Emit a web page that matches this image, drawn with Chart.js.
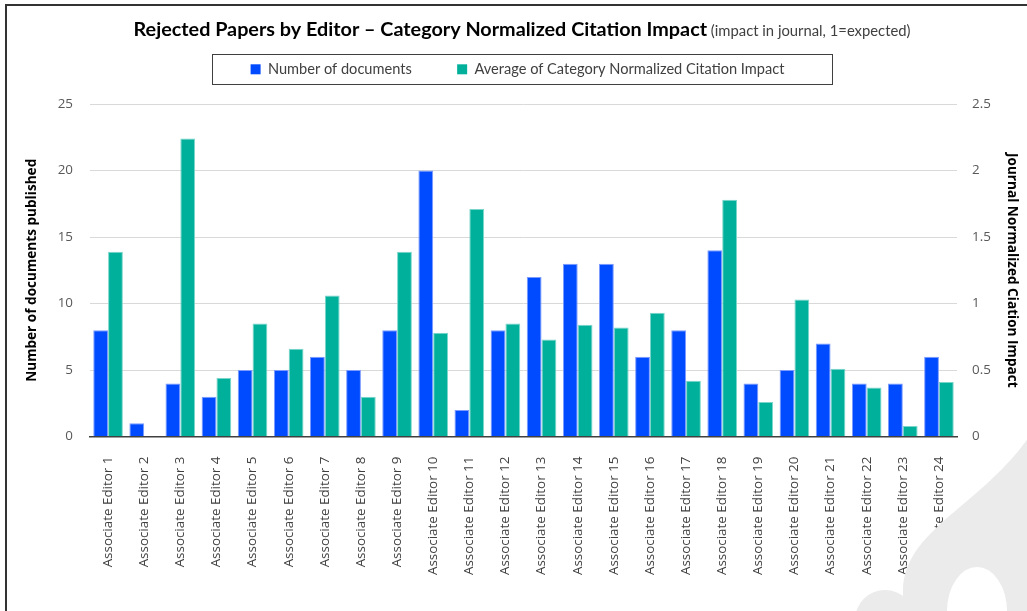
<!DOCTYPE html>
<html>
<head>
<meta charset="utf-8">
<script src="https://cdn.jsdelivr.net/npm/chart.js@4.4.1/dist/chart.umd.min.js"></script>
<style>
  html, body { margin: 0; padding: 0; background: #fff; }
  #wrap { width: 1027px; height: 611px; }
</style>
</head>
<body>
<div id="wrap"><canvas id="result" width="1027" height="611"></canvas></div>
<script>
const editors = [
  'Associate Editor 1', 'Associate Editor 2', 'Associate Editor 3', 'Associate Editor 4',
  'Associate Editor 5', 'Associate Editor 6', 'Associate Editor 7', 'Associate Editor 8',
  'Associate Editor 9', 'Associate Editor 10', 'Associate Editor 11', 'Associate Editor 12',
  'Associate Editor 13', 'Associate Editor 14', 'Associate Editor 15', 'Associate Editor 16',
  'Associate Editor 17', 'Associate Editor 18', 'Associate Editor 19', 'Associate Editor 20',
  'Associate Editor 21', 'Associate Editor 22', 'Associate Editor 23', 'Associate Editor 24'
]
const documents = [8, 1, 4, 3, 5, 5, 6, 5, 8, 20, 2, 8, 12, 13, 13, 6, 8, 14, 4, 5, 7, 4, 4, 6]
const citationImpact = [1.39, 0, 2.24, 0.44, 0.85, 0.66, 1.06, 0.30, 1.39, 0.78, 1.71, 0.85,
  0.73, 0.84, 0.82, 0.93, 0.42, 1.78, 0.26, 1.03, 0.51, 0.37, 0.08, 0.41]
const docTicks = [0, 5, 10, 15, 20, 25]
const impactTicks = [0, 0.5, 1, 1.5, 2, 2.5]

const blue = '#004bff'
const green = '#00b09b'

// frame, title, boxed legend and the grey watermark in the corner
const decorations = {
  id: 'decorations',
  beforeInit (chart) {
    const fit = chart.legend.fit
    chart.legend.fit = function () {
      fit.bind(chart.legend)()
      this.height = 50
    }
  },
  afterDraw (chart) {
    const ctx = chart.ctx
    ctx.save()

    // outer frame (top and left edge only)
    ctx.strokeStyle = '#333'
    ctx.lineWidth = 2
    ctx.beginPath()
    ctx.moveTo(6, 611)
    ctx.lineTo(6, 5)
    ctx.lineTo(1027, 5)
    ctx.stroke()

    // title
    const main = 'Rejected Papers by Editor \u2013 Category Normalized Citation Impact'
    const sub = ' (impact in journal, 1=expected)'
    ctx.font = 'bold 19.8px Lato'
    const w1 = ctx.measureText(main).width
    ctx.font = '14.8px Lato'
    const w2 = ctx.measureText(sub).width
    const x = 522 - (w1 + w2) / 2
    ctx.textBaseline = 'alphabetic'
    ctx.textAlign = 'left'
    ctx.fillStyle = '#000'
    ctx.font = 'bold 19.8px Lato'
    ctx.fillText(main, x, 36)
    ctx.fillStyle = '#404040'
    ctx.font = '14.8px Lato'
    ctx.fillText(sub, x + w1, 36)

    // legend box
    const hb = chart.legend.legendHitBoxes
    if (hb.length) {
      const l = hb[0].left - 39
      const r = hb[hb.length - 1].left + hb[hb.length - 1].width + 47
      ctx.strokeStyle = '#404040'
      ctx.lineWidth = 1
      ctx.strokeRect(Math.round(l) + 0.5, 54.5, Math.round(r - l), 30)
    }

    // watermark
    ctx.fillStyle = '#ebebeb'
    ctx.beginPath()
    ctx.moveTo(1040, 420)
    ctx.bezierCurveTo(990, 505, 905, 525, 903, 590)
    ctx.lineTo(903, 615)
    ctx.lineTo(1030, 615)
    ctx.lineTo(1030, 420)
    ctx.closePath()
    ctx.fill()
    ctx.beginPath()
    ctx.arc(885, 620, 30, 0, Math.PI * 2)
    ctx.fill()
    ctx.fillStyle = '#fff'
    ctx.beginPath()
    ctx.ellipse(977, 611, 30, 44, 0, 0, Math.PI * 2)
    ctx.fill()

    ctx.restore()
  }
}

const tickFont = { family: 'Open Sans', size: 13.4 }
const titleFont = { family: 'Open Sans', size: 13.6, weight: 'bold' }

new Chart(document.getElementById('result'), {
  type: 'bar',
  data: {
    labels: editors,
    datasets: [{
      label: 'Number of documents',
      data: documents,
      backgroundColor: blue,
      borderColor: '#7d9bff',
      borderWidth: 1,
      yAxisID: 'y'
    }, {
      label: 'Average of Category Normalized Citation Impact',
      data: citationImpact,
      backgroundColor: green,
      borderColor: '#7ad6ca',
      borderWidth: 1,
      yAxisID: 'y1'
    }]
  },
  options: {
    responsive: false,
    animation: false,
    categoryPercentage: 0.82,
    barPercentage: 1,
    layout: { padding: { top: 54, bottom: 16, left: 8, right: 0 } },
    plugins: {
      tooltip: { enabled: false },
      legend: {
        position: 'top',
        labels: {
          boxWidth: 10,
          boxHeight: 10,
          padding: 8,
          color: '#404040',
          font: { family: 'Lato', size: 14.6 },
          generateLabels (chart) {
            const items = Chart.defaults.plugins.legend.labels.generateLabels(chart)
            items.forEach((it, i) => {
              it.lineWidth = 0
              if (i === 0) it.text = it.text + '\u00a0'.repeat(10)
            })
            return items
          }
        }
      }
    },
    scales: {
      x: {
        grid: { display: false, drawTicks: false },
        border: { color: '#404040', width: 1.5 },
        ticks: {
          autoSkip: false,
          minRotation: 90,
          maxRotation: 90,
          padding: 20,
          color: '#404040',
          font: tickFont
        }
      },
      y: {
        position: 'left',
        min: 0,
        max: 25,
        afterBuildTicks (scale) { scale.ticks = docTicks.map(v => ({ value: v })) },
        afterFit (scale) { scale.width = 82 },
        grid: { color: '#d9d9d9', drawTicks: false },
        border: { display: false },
        ticks: { padding: 17, color: '#595959', font: tickFont },
        title: {
          display: true,
          text: 'Number of documents published',
          color: '#000',
          font: titleFont,
          padding: { top: 16 }
        }
      },
      y1: {
        position: 'right',
        min: 0,
        max: 2.5,
        afterBuildTicks (scale) { scale.ticks = impactTicks.map(v => ({ value: v })) },
        afterFit (scale) { scale.width = 70 },
        grid: { drawOnChartArea: false, drawTicks: false },
        border: { display: false },
        ticks: { padding: 15, color: '#595959', font: tickFont, callback: v => String(v) },
        title: {
          display: true,
          text: 'Journal Normalized Ciation Impact',
          color: '#000',
          font: titleFont,
          padding: { top: 7 }
        }
      }
    }
  },
  plugins: [decorations]
})
</script>
</body>
</html>
